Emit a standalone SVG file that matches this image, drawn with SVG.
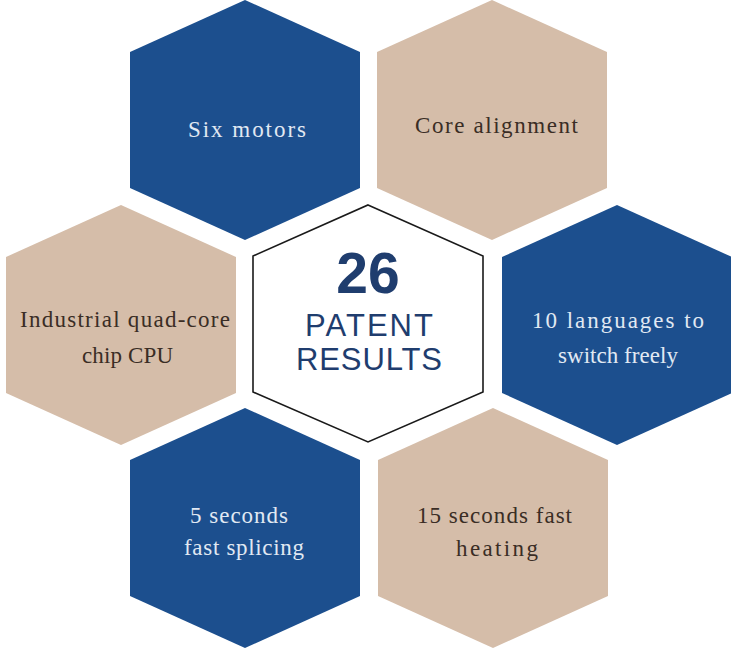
<svg xmlns="http://www.w3.org/2000/svg" width="731" height="653" viewBox="0 0 731 653">
<style>
.blue{fill:#1c4f8e}
.beige{fill:#d5bda9}
.center{fill:#ffffff;stroke:#1a1a1a;stroke-width:1.6}
.lt{font-family:"Liberation Serif","DejaVu Serif",serif;font-size:23px;fill:#e1e9f3;text-anchor:start}
.dt{font-family:"Liberation Serif","DejaVu Serif",serif;font-size:23px;fill:#3a2d25;text-anchor:start}
.ct{font-family:"Liberation Sans",Arial,sans-serif;fill:#1f3d6e;text-anchor:middle}
</style>
<defs>
<polygon id="hex" points="0,-120 115,-68 115,68 0,120 -115,68 -115,-68"/>
</defs>
<rect width="731" height="653" fill="#ffffff"/>
<g id="connectors"/>
<g id="node-six-motors">
<use href="#hex" class="blue" x="245" y="120"/>
<text class="lt" x="188" y="137" textLength="118" lengthAdjust="spacing">Six motors</text>
</g>
<g id="node-core-alignment">
<use href="#hex" class="beige" x="492" y="120"/>
<text class="dt" x="415" y="133" textLength="163" lengthAdjust="spacing">Core alignment</text>
</g>
<g id="node-cpu">
<use href="#hex" class="beige" x="121" y="325"/>
<text class="dt" x="20" y="327" textLength="210" lengthAdjust="spacing">Industrial quad-core</text>
<text class="dt" x="82" y="363" textLength="91" lengthAdjust="spacing">chip CPU</text>
</g>
<g id="node-center">
<polygon class="center" points="368,205 483,256 483,392 368,442 253,392 253,256"/>
<text class="ct" x="368" y="293" font-size="57" font-weight="bold" fill="#1c3d6f">26</text>
<text class="ct" x="369" y="336" font-size="31" textLength="128" lengthAdjust="spacing">PATENT</text>
<text class="ct" x="369" y="370" font-size="31" textLength="146" lengthAdjust="spacing">RESULTS</text>
</g>
<g id="node-languages">
<use href="#hex" class="blue" x="617" y="325"/>
<text class="lt" x="532" y="328" textLength="172" lengthAdjust="spacing">10 languages to</text>
<text class="lt" x="558" y="363" textLength="120" lengthAdjust="spacing">switch freely</text>
</g>
<g id="node-splicing">
<use href="#hex" class="blue" x="245" y="528"/>
<text class="lt" x="190" y="523" textLength="98" lengthAdjust="spacing">5 seconds</text>
<text class="lt" x="184" y="555" textLength="120" lengthAdjust="spacing">fast splicing</text>
</g>
<g id="node-heating">
<use href="#hex" class="beige" x="493" y="528"/>
<text class="dt" x="417" y="523" textLength="155" lengthAdjust="spacing">15 seconds fast</text>
<text class="dt" x="456" y="556" textLength="82" lengthAdjust="spacing">heating</text>
</g>
</svg>
